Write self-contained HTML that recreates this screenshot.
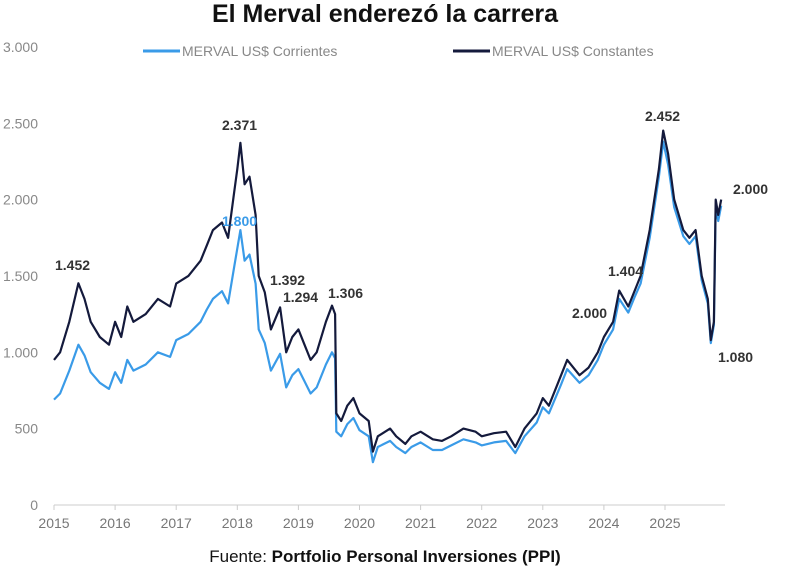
<!DOCTYPE html>
<html><head><meta charset="utf-8"><style>
body{margin:0;background:#fff;width:800px;height:573px;overflow:hidden;font-family:"Liberation Sans",sans-serif}
svg{display:block}
</style></head><body>
<svg id="c" width="800" height="573">
<text x="385" y="22" text-anchor="middle" font-size="25" font-weight="bold" fill="#111">El Merval enderezó la carrera</text>
<g>
<line x1="143" y1="51" x2="180" y2="51" stroke="#3a9be8" stroke-width="3"/>
<text x="182" y="56" font-size="14" fill="#888">MERVAL US$ Corrientes</text>
<line x1="453" y1="51" x2="490" y2="51" stroke="#141a3c" stroke-width="3"/>
<text x="492" y="56" font-size="14" fill="#888">MERVAL US$ Constantes</text>
</g>
<g id="axes"></g>
<g id="series"></g>
<g id="ann"></g>
<text x="385" y="562" text-anchor="middle" font-size="17" fill="#111">Fuente: <tspan font-weight="bold">Portfolio Personal Inversiones (PPI)</tspan></text>
</svg>
<script>
const yTicks=[0,500,1000,1500,2000,2500,3000];
const yTickLabels=["0","500","1.000","1.500","2.000","2.500","3.000"];
const xTicks=[2015,2016,2017,2018,2019,2020,2021,2022,2023,2024,2025];
const tConst=[2015.0,2015.1,2015.25,2015.4,2015.5,2015.6,2015.75,2015.9,2016.0,2016.1,2016.2,2016.3,2016.5,2016.7,2016.9,2017.0,2017.2,2017.4,2017.5,2017.6,2017.75,2017.85,2017.95,2018.0,2018.05,2018.12,2018.2,2018.3,2018.35,2018.45,2018.55,2018.7,2018.8,2018.9,2019.0,2019.1,2019.2,2019.3,2019.45,2019.55,2019.6,2019.62,2019.7,2019.8,2019.9,2020.0,2020.15,2020.22,2020.3,2020.5,2020.6,2020.75,2020.85,2021.0,2021.2,2021.35,2021.5,2021.7,2021.9,2022.0,2022.2,2022.4,2022.55,2022.7,2022.9,2023.0,2023.1,2023.3,2023.4,2023.6,2023.75,2023.9,2024.0,2024.15,2024.25,2024.4,2024.5,2024.6,2024.75,2024.9,2024.97,2025.05,2025.15,2025.3,2025.4,2025.5,2025.6,2025.7,2025.75,2025.8,2025.83,2025.87,2025.92];
const constantes=[950,1000,1200,1452,1350,1200,1100,1050,1200,1100,1300,1200,1250,1350,1300,1450,1500,1600,1700,1800,1850,1750,2050,2200,2371,2100,2150,1900,1500,1392,1150,1294,1000,1100,1150,1050,950,1000,1200,1306,1250,600,550,650,700,600,550,350,450,500,450,400,450,480,430,420,450,500,480,450,470,480,380,500,600,700,650,850,950,850,900,1000,1100,1200,1404,1300,1400,1500,1800,2200,2452,2300,2000,1800,1750,1800,1500,1350,1080,1200,2000,1900,2000];
const corrientes=[690,730,880,1050,980,870,800,760,870,800,950,880,920,1000,970,1080,1120,1200,1280,1350,1400,1320,1560,1680,1800,1600,1640,1450,1150,1060,880,990,770,850,890,810,730,770,920,1000,960,480,450,530,570,490,450,280,380,420,380,340,380,410,360,360,390,430,410,390,410,420,340,450,540,640,600,790,890,800,850,950,1050,1150,1350,1260,1360,1450,1750,2150,2380,2230,1950,1760,1710,1760,1470,1320,1060,1180,1960,1860,1960];
const annValues=["1.452","2.371","1.800","1.392","1.294","1.306","2.000","1.404","2.452","2.000","1.080"];
const annPos=[[55,270],[222,130],[222,226],[270,285],[283,302],[328,298],[572,318],[608,276],[645,121],[733,194],[718,362]];
const X=t=>54+(t-2015)*61.1, Y=v=>505-v*0.1527;
const NS="http://www.w3.org/2000/svg";
function mk(tag,at,parent){const e=document.createElementNS(NS,tag);for(const k in at)e.setAttribute(k,at[k]);parent.appendChild(e);return e;}
const ax=document.getElementById('axes');
const base=mk('line',{x1:54,y1:505,x2:725,y2:505,stroke:'#ddd','stroke-width':1.5},ax);


yTicks.forEach((v,i)=>{const t=mk('text',{x:38,y:Y(v)+5,'text-anchor':'end','font-size':14,fill:'#888'},ax);t.textContent=yTickLabels[i];

});
xTicks.forEach(yr=>{const l=mk('line',{x1:X(yr),y1:505,x2:X(yr),y2:510,stroke:'#ccc'},ax);


const t=mk('text',{x:X(yr),y:528,'text-anchor':'middle','font-size':14,fill:'#777'},ax);t.textContent=yr;

});
const s=document.getElementById('series');
function line(vals,color,name){const d=vals.map((v,i)=>(i?'L':'M')+X(tConst[i]).toFixed(1)+','+Y(v).toFixed(1)).join('');
const p=mk('path',{d:d,fill:'none',stroke:color,'stroke-width':2.2,'stroke-linejoin':'round'},s);

}
line(corrientes,'#3a9be8','line-corrientes');
line(constantes,'#141a3c','line-constantes');
const an=document.getElementById('ann');
annValues.forEach((v,i)=>{const t=mk('text',{x:annPos[i][0],y:annPos[i][1],'font-size':14,'font-weight':'bold',fill:i==2?'#3a9be8':'#333'},an);t.textContent=v;

});
</script>
</body></html>
